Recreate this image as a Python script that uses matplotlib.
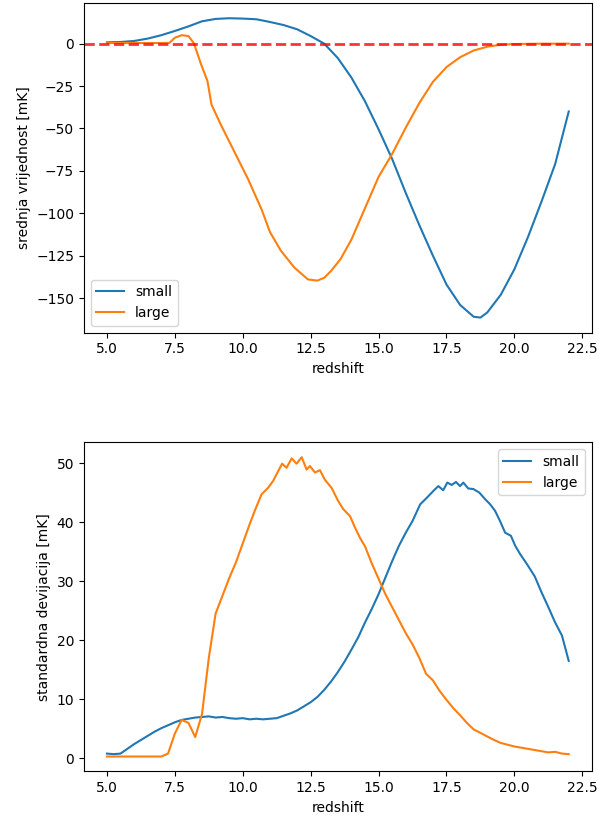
import matplotlib
matplotlib.use("Agg")
import matplotlib.pyplot as plt

# top panel: mean brightness temperature vs redshift
z_mean_small = [5.0, 5.5, 6.0, 6.5, 7.0, 7.5, 8.0, 8.5, 9.0, 9.5, 10.0, 10.5, 11.0, 11.5, 12.0, 12.5,
                13.0, 13.5, 14.0, 14.5, 15.0, 15.5, 16.0, 16.5, 17.0, 17.5, 18.0, 18.5, 18.75, 19.0,
                19.5, 20.0, 20.5, 21.0, 21.5, 22.0]
mean_small = [0.8, 1.0, 1.6, 3.0, 5.0, 7.5, 10.2, 13.2, 14.6, 15.0, 14.8, 14.4, 12.8, 11.0, 8.5, 4.5,
              0.0, -8.5, -20.0, -34.0, -50.5, -68.0, -88.0, -107.0, -125.0, -142.0, -154.0, -161.0,
              -161.5, -158.5, -148.0, -133.0, -114.0, -93.0, -71.0, -40.0]

z_mean_large = [5.0, 6.0, 7.0, 7.3, 7.5, 7.75, 8.0, 8.2, 8.45, 8.7, 8.85, 9.2, 9.7, 10.2, 10.7, 11.0,
                11.4, 11.9, 12.4, 12.75, 13.0, 13.25, 13.6, 14.0, 14.5, 15.0, 15.5, 16.0, 16.5, 17.0,
                17.5, 18.0, 18.5, 19.0, 19.5, 20.0, 21.0, 22.0]
mean_large = [0.4, 0.4, 0.4, 0.5, 3.5, 5.0, 4.5, 0.3, -11.5, -22.0, -36.0, -48.0, -64.0, -80.0, -98.0,
              -111.0, -122.0, -132.0, -139.0, -139.7, -138.0, -134.0, -127.0, -115.5, -97.0, -78.5,
              -65.0, -49.5, -35.0, -22.5, -13.8, -8.0, -4.0, -1.8, -0.6, -0.2, 0.0, 0.0]

# bottom panel: standard deviation vs redshift
z_std_small = [5.0, 5.25, 5.5, 5.75, 6.0, 6.25, 6.5, 6.75, 7.0, 7.25, 7.5, 7.75, 8.0, 8.25, 8.5, 8.75,
               9.0, 9.25, 9.5, 9.75, 10.0, 10.25, 10.5, 10.75, 11.0, 11.25, 11.5, 11.75, 12.0, 12.25,
               12.5, 12.75, 13.0, 13.25, 13.5, 13.75, 14.0, 14.25, 14.5, 14.75, 15.0, 15.25, 15.5,
               15.75, 16.0, 16.25, 16.53, 16.77, 17.02, 17.2, 17.38, 17.53, 17.69, 17.85, 18.0, 18.12,
               18.3, 18.49, 18.71, 18.92, 19.11, 19.29, 19.47, 19.66, 19.87, 20.03, 20.21, 20.46,
               20.75, 21.0, 21.25, 21.5, 21.75, 22.0]
std_small = [0.8, 0.7, 0.8, 1.6, 2.4, 3.1, 3.8, 4.5, 5.1, 5.6, 6.1, 6.5, 6.7, 6.9, 7.0, 7.1,
             6.9, 7.0, 6.8, 6.7, 6.8, 6.6, 6.7, 6.6, 6.7, 6.8, 7.2, 7.6, 8.1, 8.8,
             9.5, 10.4, 11.6, 13.0, 14.6, 16.4, 18.4, 20.5, 23.0, 25.3, 27.8, 30.6, 33.4,
             36.0, 38.2, 40.2, 43.0, 44.1, 45.3, 46.1, 45.4, 46.7, 46.3, 46.8, 46.1, 46.7,
             45.7, 45.6, 45.0, 43.9, 43.0, 41.9, 40.2, 38.2, 37.7, 36.0, 34.6, 32.9,
             30.8, 28.1, 25.6, 23.0, 20.8, 16.5]

z_std_large = [5.0, 6.0, 7.0, 7.25, 7.5, 7.75, 8.0, 8.25, 8.5, 8.75, 9.0, 9.25, 9.5, 9.75, 10.0, 10.25,
               10.44, 10.69, 10.93, 11.12, 11.3, 11.45, 11.61, 11.8, 11.98, 12.17, 12.35, 12.47, 12.66,
               12.84, 13.02, 13.27, 13.51, 13.7, 13.95, 14.13, 14.32, 14.5, 14.75, 15.0, 15.25, 15.5,
               15.75, 16.0, 16.25, 16.5, 16.75, 17.0, 17.25, 17.5, 17.75, 18.0, 18.25, 18.5, 18.75,
               19.0, 19.25, 19.5, 19.75, 20.0, 20.25, 20.5, 20.75, 21.0, 21.25, 21.5, 21.75, 22.0]
std_large = [0.3, 0.3, 0.3, 0.8, 4.2, 6.5, 6.0, 3.6, 7.5, 17.0, 24.5, 27.5, 30.5, 33.2, 36.4, 39.6,
             41.9, 44.7, 45.8, 47.0, 48.6, 49.9, 49.2, 50.8, 49.9, 51.0, 48.9, 49.5, 48.4,
             48.8, 47.2, 45.8, 43.6, 42.2, 41.0, 39.1, 37.3, 35.9, 33.0, 30.4, 27.8, 25.6,
             23.4, 21.2, 19.3, 17.0, 14.3, 13.2, 11.4, 9.9, 8.5, 7.3, 6.0, 4.9, 4.3,
             3.7, 3.1, 2.6, 2.3, 2.0, 1.8, 1.6, 1.4, 1.2, 1.0, 1.1, 0.8, 0.7]

fig, (ax1, ax2) = plt.subplots(2, 1, figsize=(5.99, 8.19), dpi=100)
plt.subplots_adjust(left=0.14, right=0.988, top=0.996, bottom=0.058, hspace=0.333)

ax1.plot(z_mean_small, mean_small, label="small")
ax1.plot(z_mean_large, mean_large, label="large")
ax1.axhline(0, color="red", linestyle="--", linewidth=2, alpha=0.8)
ax1.set_xlabel("redshift")
ax1.set_ylabel("srednja vrijednost [mK]")
ax1.legend(loc="lower left")

ax2.plot(z_std_small, std_small, label="small")
ax2.plot(z_std_large, std_large, label="large")
ax2.set_xlabel("redshift")
ax2.set_ylabel("standardna devijacija [mK]")
ax2.legend(loc="upper right")

plt.savefig("out.png", dpi=100)
